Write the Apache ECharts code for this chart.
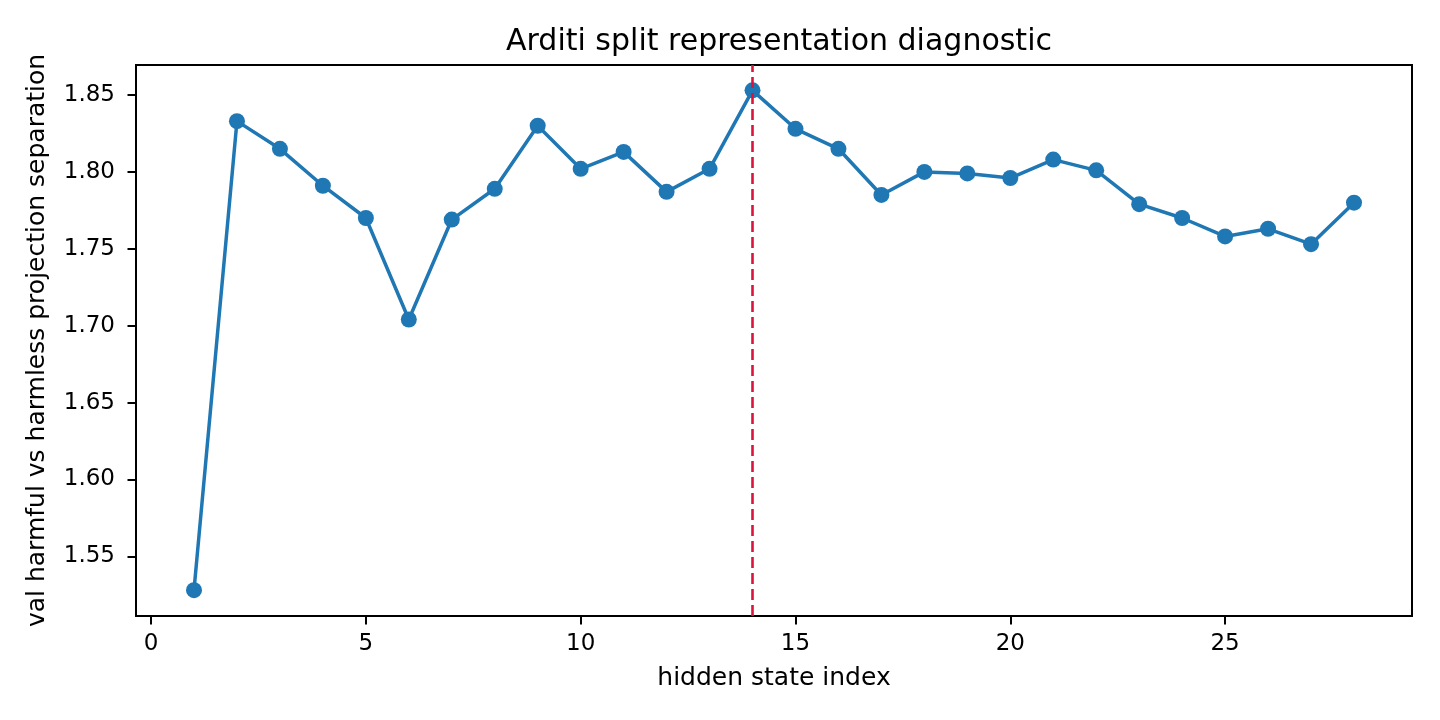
<!DOCTYPE html>
<html>
<head>
<meta charset="utf-8">
<script src="https://cdn.jsdelivr.net/npm/echarts@6/dist/echarts.min.js"></script>
<style>
  html, body { margin: 0; padding: 0; background: #fff; }
  #chart { width: 1440px; height: 720px; }
</style>
</head>
<body>
<div id="chart"></div>
<script>
// hidden state layer index and separation score
const layers = [1, 2, 3, 4, 5, 6, 7, 8, 9, 10, 11, 12, 13, 14,
  15, 16, 17, 18, 19, 20, 21, 22, 23, 24, 25, 26, 27, 28];
const separation = [1.528, 1.833, 1.815, 1.791, 1.770, 1.704, 1.769, 1.789,
  1.830, 1.802, 1.813, 1.787, 1.802, 1.853, 1.828, 1.815, 1.785, 1.800,
  1.799, 1.796, 1.808, 1.801, 1.779, 1.770, 1.758, 1.763, 1.753, 1.780];
const chosenLayer = 14;
const xTicks = [0, 5, 10, 15, 20, 25];
const yTicks = [1.55, 1.60, 1.65, 1.70, 1.75, 1.80, 1.85];

const font = 'DejaVu Sans';
const chart = echarts.init(document.getElementById('chart'));

const tick = { show: true, inside: false, length: 8.5, lineStyle: { color: '#000', width: 2 } };

chart.setOption({
  animation: false,
  title: {
    text: 'Arditi split representation diagnostic',
    left: 774, top: 22, textAlign: 'center',
    textStyle: { fontFamily: font, fontSize: 30, fontWeight: 'normal', color: '#000' }
  },
  grid: {
    left: 136, right: 28, top: 65, bottom: 104,
    show: true, borderColor: '#000', borderWidth: 2, backgroundColor: 'transparent'
  },
  xAxis: {
    type: 'value', min: -0.35, max: 29.35,
    name: 'hidden state index', nameLocation: 'middle', nameGap: 50,
    nameTextStyle: { fontFamily: font, fontSize: 25, color: '#000' },
    axisLine: { show: false, onZero: false },
    axisTick: Object.assign({ customValues: xTicks }, tick),
    axisLabel: { fontFamily: font, fontSize: 23, color: '#000', margin: 17, customValues: xTicks },
    splitLine: { show: false }
  },
  yAxis: {
    type: 'value', min: 1.5112, max: 1.8695,
    name: 'val harmful vs harmless projection separation', nameLocation: 'middle', nameGap: 86,
    nameTextStyle: { fontFamily: font, fontSize: 25, color: '#000' },
    axisLine: { show: false, onZero: false },
    axisTick: Object.assign({ customValues: yTicks }, tick),
    axisLabel: {
      fontFamily: font, fontSize: 23, color: '#000', margin: 21, customValues: yTicks,
      formatter: v => v.toFixed(2)
    },
    splitLine: { show: false }
  },
  series: [{
    type: 'line',
    data: layers.map((l, i) => [l, separation[i]]),
    symbol: 'circle', symbolSize: 16,
    lineStyle: { color: '#1f77b4', width: 3.5 },
    itemStyle: { color: '#1f77b4' },
    markLine: {
      silent: true, symbol: 'none', label: { show: false },
      lineStyle: { color: '#dc143c', type: [11, 5], width: 2.6 },
      data: [{ xAxis: chosenLayer }]
    }
  }]
});
</script>
</body>
</html>
